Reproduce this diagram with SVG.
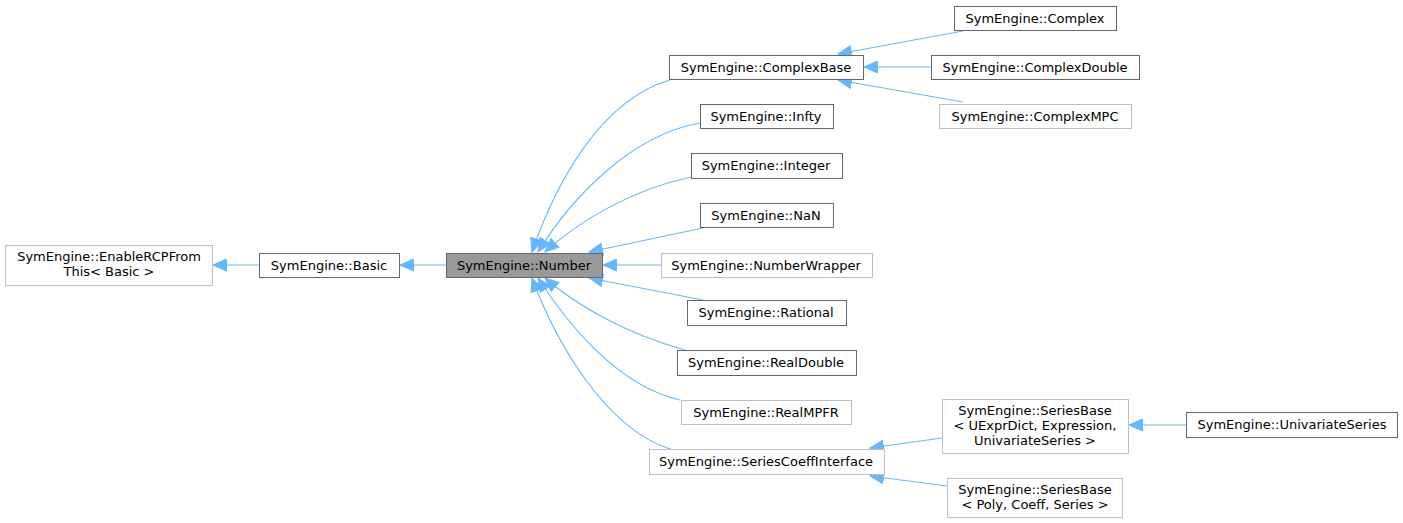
<svg xmlns="http://www.w3.org/2000/svg" width="1403" height="523" viewBox="0 0 1403 523">
<style>
.n rect{fill:#fff;stroke:#666;stroke-width:1}
.n.l rect{stroke:#bfbfbf}
.n.cur rect{fill:#999;stroke:#666}
text{font-family:"DejaVu Sans",sans-serif;font-size:13px;fill:#000;text-anchor:middle}
.e path{fill:none;stroke:#63b8ff;stroke-width:1.1;marker-end:url(#ah)}
</style>
<defs>
<marker id="ah" markerUnits="userSpaceOnUse" markerWidth="15" markerHeight="13" viewBox="0 0 15 13" refX="14" refY="6.5" orient="auto">
<path d="M0.5,0.5 L14,6.5 L0.5,12.5 z" fill="#63b8ff" stroke="#63b8ff"/>
</marker>
</defs>
<rect width="1403" height="523" fill="#fff"/>
<g id="edges" class="e">
<path d="M259,265 L213,265"/>
<path d="M446,265 L400,265"/>
<path d="M670,80 C600,100 555,185 532,252"/>
<path d="M700,123 C630,135 570,200 538,252"/>
<path d="M691,177 C630,190 578,222 545,252"/>
<path d="M703,228 L589,252"/>
<path d="M661,265 L603,265"/>
<path d="M703,300 L589,278"/>
<path d="M685,350 C630,335 578,307 545,278"/>
<path d="M680,400 C615,385 565,320 538,278"/>
<path d="M673,450 C605,430 555,340 532,278"/>
<path d="M963,31 L838,54"/>
<path d="M931,67 L864,67"/>
<path d="M963,102 L838,80"/>
<path d="M942,438 L870,448"/>
<path d="M947,486 L870,476"/>
<path d="M1186,425 L1129,425"/>
</g>
<g id="enablercp" class="n l"><rect x="5.5" y="245.5" width="207" height="40"/><text x="109" y="261">SymEngine::EnableRCPFrom</text><text x="109" y="276">This&lt; Basic &gt;</text></g>
<g id="basic" class="n"><rect x="259.5" y="253.5" width="140" height="24"/><text x="329" y="270">SymEngine::Basic</text></g>
<g id="number" class="n cur"><rect x="446.5" y="253.5" width="156" height="24"/><text x="524" y="270">SymEngine::Number</text></g>
<g id="complexbase" class="n"><rect x="669.5" y="55.5" width="194" height="24"/><text x="766" y="72">SymEngine::ComplexBase</text></g>
<g id="complex" class="n"><rect x="954.5" y="6.5" width="162" height="24"/><text x="1035" y="23">SymEngine::Complex</text></g>
<g id="complexdouble" class="n"><rect x="931.5" y="55.5" width="208" height="24"/><text x="1035" y="72">SymEngine::ComplexDouble</text></g>
<g id="complexmpc" class="n l"><rect x="939.5" y="104.5" width="192" height="24"/><text x="1035" y="121">SymEngine::ComplexMPC</text></g>
<g id="infty" class="n"><rect x="700.5" y="104.5" width="133" height="24"/><text x="766" y="121">SymEngine::Infty</text></g>
<g id="integer" class="n"><rect x="691.5" y="153.5" width="151" height="25"/><text x="766" y="170">SymEngine::Integer</text></g>
<g id="nan" class="n"><rect x="700.5" y="203.5" width="133" height="24"/><text x="766" y="220">SymEngine::NaN</text></g>
<g id="numberwrapper" class="n l"><rect x="661.5" y="253.5" width="211" height="24"/><text x="766" y="270">SymEngine::NumberWrapper</text></g>
<g id="rational" class="n"><rect x="687.5" y="300.5" width="159" height="25"/><text x="766" y="317">SymEngine::Rational</text></g>
<g id="realdouble" class="n"><rect x="677.5" y="350.5" width="179" height="25"/><text x="766" y="367">SymEngine::RealDouble</text></g>
<g id="realmpfr" class="n l"><rect x="681.5" y="400.5" width="170" height="24"/><text x="766" y="417">SymEngine::RealMPFR</text></g>
<g id="seriescoeff" class="n l"><rect x="649.5" y="449.5" width="235" height="25"/><text x="766" y="466">SymEngine::SeriesCoeffInterface</text></g>
<g id="seriesbase1" class="n l"><rect x="942.5" y="399.5" width="186" height="54"/><text x="1035" y="415">SymEngine::SeriesBase</text><text x="1035" y="430">&lt; UExprDict, Expression,</text><text x="1035" y="445">UnivariateSeries &gt;</text></g>
<g id="seriesbase2" class="n l"><rect x="947.5" y="478.5" width="175" height="39"/><text x="1035" y="494">SymEngine::SeriesBase</text><text x="1035" y="509">&lt; Poly, Coeff, Series &gt;</text></g>
<g id="univariateseries" class="n"><rect x="1186.5" y="412.5" width="211" height="25"/><text x="1292" y="429">SymEngine::UnivariateSeries</text></g>
</svg>
